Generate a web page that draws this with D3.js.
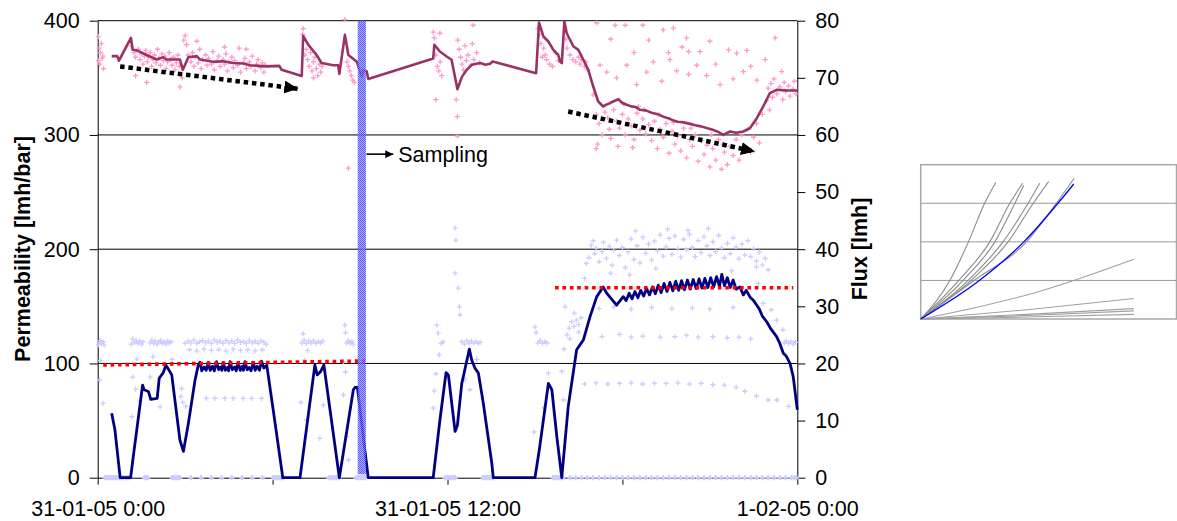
<!DOCTYPE html>
<html>
<head>
<meta charset="utf-8">
<script src="https://cdn.jsdelivr.net/npm/d3@7"></script>
<style>
body{margin:0;background:#fff;}
text{font-family:"Liberation Sans",Arial,sans-serif;}
</style>
</head>
<body>
<div id="chart"></div>
<script>
// hours since 31-01-05 0:00, permeability [lmh/bar]
const permLine = [[0.48,369],[0.67,369],[0.73,365],[1.14,385],[1.20,374.5],[1.34,374],[1.68,370],[2.02,366],[2.25,368],[2.37,366],[2.82,366],[2.92,357],[3.11,368],[3.40,369],[3.51,366],[3.96,364],[4.3,364.5],[4.64,363],[5.0,362.5],[5.22,361],[5.5,360.5],[5.80,360],[6.23,360.5],[6.31,357],[7.00,351.7],[7.05,386.8],[7.22,379],[7.51,370],[7.68,363],[8.08,361],[8.25,361],[8.29,353.5],[8.48,387.6],[8.60,370],[8.89,364],[9.06,351],[9.11,357],[9.23,355.5],[9.28,349],[11.51,367],[11.55,379],[11.74,373],[11.97,368.7],[12.14,365.8],[12.34,340],[12.49,350.6],[12.66,357],[12.83,361.4],[13.12,362.9],[13.3,361.5],[13.46,362.3],[13.55,364.3],[15.04,354],[15.14,398.4],[15.29,386.2],[15.46,381.8],[15.63,374.5],[15.80,370],[15.86,364.3],[15.92,362.9],[16.01,399.3],[16.09,389],[16.32,377.4],[16.49,374.5],[16.66,365.8],[16.83,357],[17.00,342.4],[17.17,329.3],[17.34,324.9],[17.45,326.5],[17.57,327.8],[17.7,329.5],[17.86,331.3],[18.0,328],[18.15,326.4],[18.3,325],[18.45,324.5],[18.60,322],[18.8,321.5],[19.0,319.5],[19.18,318.4],[19.4,316],[19.6,314.5],[19.75,312.6],[19.9,311.5],[20.1,311],[20.32,309.7],[20.5,308.5],[20.7,307.5],[20.89,306],[21.1,304.5],[21.3,302.5],[21.46,300],[21.69,303],[21.9,302],[22.15,303],[22.38,306],[22.61,314.7],[22.83,324.9],[23.06,336.6],[23.29,339.5],[23.6,339],[24.0,338.9]];

// hours, flux [lmh]
const fluxLine = [[0.48,11.3],[0.59,8.4],[0.77,0],[1.13,0],[1.22,3.7],[1.54,16.2],[1.59,15.4],[1.74,15.1],[1.82,13.7],[2.04,13.9],[2.11,17.4],[2.25,18.4],[2.34,19.7],[2.39,19.3],[2.54,18],[2.82,6.6],[2.94,4.6],[3.11,9.5],[3.34,17.1],[3.45,19.7],[3.51,20.2],[3.57,18.7],[3.65,19.4],[3.72,18.8],[3.79,20.2],[3.86,18.8],[3.94,19.5],[4.0,18.7],[4.08,20.3],[4.15,18.9],[4.22,19.4],[4.26,18.8],[4.31,20.2],[4.38,18.8],[4.45,19.3],[4.49,18.7],[4.54,20.3],[4.62,18.9],[4.7,19.4],[4.75,18.7],[4.82,20.2],[4.89,18.8],[4.96,19.5],[5.0,18.8],[5.05,20.3],[5.13,18.9],[5.2,19.3],[5.26,18.7],[5.34,20.2],[5.4,18.8],[5.47,19.5],[5.55,18.8],[5.62,20.4],[5.7,19.2],[5.8,19.7],[6.02,11.9],[6.35,0],[6.94,0],[7.45,19.7],[7.53,18],[7.65,18.6],[7.76,19.7],[7.97,11.9],[8.29,0],[8.77,15.4],[8.83,15.8],[8.91,15.8],[9.11,7.2],[9.28,0],[11.51,0],[11.74,10.1],[11.95,18.4],[12.03,18],[12.26,8.1],[12.34,9.2],[12.49,16.5],[12.75,22.5],[12.83,20.6],[12.94,19.2],[13.06,18.3],[13.23,13],[13.52,2.5],[13.57,0],[15.0,0],[15.15,4.9],[15.46,16.5],[15.58,15.4],[15.75,7.2],[15.92,0],[16.14,12.4],[16.43,22.4],[16.66,24.1],[16.89,28.2],[17.12,31.7],[17.34,33.4],[17.46,32.3],[17.8,30.2],[18.03,31.7],[18.13,31.0],[18.23,32.3],[18.33,31.3],[18.43,32.6],[18.53,31.5],[18.63,32.8],[18.73,31.8],[18.83,33.1],[18.93,32.0],[19.03,33.4],[19.13,32.2],[19.23,33.7],[19.33,32.4],[19.43,34.0],[19.53,32.6],[19.63,34.2],[19.73,32.7],[19.83,34.4],[19.93,32.8],[20.03,34.5],[20.13,32.9],[20.23,34.6],[20.33,33.0],[20.43,34.7],[20.53,33.1],[20.63,34.8],[20.73,33.2],[20.83,34.9],[20.93,33.3],[21.03,35.0],[21.13,33.4],[21.23,35.2],[21.33,33.5],[21.41,35.6],[21.5,33.6],[21.6,35.0],[21.7,33.3],[21.8,34.6],[21.9,33.0],[22.03,33.4],[22.15,32.0],[22.25,32.8],[22.38,31.6],[22.5,31.0],[22.61,30.2],[22.7,29.5],[22.8,28.3],[22.95,27.3],[23.1,26.0],[23.29,24.7],[23.4,23.5],[23.52,21.8],[23.62,21.3],[23.75,20],[23.86,17.7],[24.0,11.9]];

const permPoints = [[0.02,386],[0.05,376],[0.1,372],[0.15,367],[0.07,362],[0.2,358],[0.12,380],[0.18,369],[0.03,365],
[1.15,378],[1.25,372],[1.3,368],[1.4,375],[1.45,366],[1.5,371],[1.55,362],[1.6,369],[1.65,374],[1.7,364],[1.75,368],[1.8,372],[1.85,360],[1.9,366],[1.95,370],[2.0,363],[2.05,375],[2.1,367],[2.15,361],[2.2,371],[2.25,365],[2.3,369],[2.35,358],[2.4,364],[2.45,372],[2.5,366],[2.55,361],[2.6,368],[2.65,357],[2.7,363],[2.75,370],[2.8,360],[1.68,346],[1.3,352],[2.82,342],[2.9,350],[2.95,383],[3.0,387],[3.05,379],
[3.1,370],[3.2,364],[3.25,372],[3.3,360],[3.35,368],[3.45,363],[3.5,375],[3.55,358],[3.6,366],[3.7,370],[3.75,361],[3.8,367],[3.9,362],[3.95,373],[4.0,357],[4.1,365],[4.15,369],[4.2,360],[4.3,366],[4.35,362],[4.4,371],[4.45,356],[4.5,364],[4.6,368],[4.65,359],[4.7,365],[4.8,361],[4.85,376],[4.9,355],[5.0,363],[5.05,367],[5.1,358],[5.2,364],[5.25,360],[5.3,369],[5.4,356],[5.45,362],[5.5,366],[5.6,359],[5.65,363],[5.7,355],[5.75,361],[4.35,377],[3.4,382],[5.1,375],
[7.05,393],[7.03,388],[7.1,370],[7.15,375],[7.2,366],[7.25,360],[7.3,372],[7.35,356],[7.4,364],[7.45,368],[7.5,358],[7.55,352],[7.6,362],[7.65,355],[7.7,360],[7.4,350],
[8.48,401],[8.55,364],[8.6,360],[8.65,356],[8.7,352],[8.75,348],[8.8,346],[8.6,271],
[11.51,390],[11.55,385],[11.6,370],[11.65,360],[11.7,356],[11.75,364],[11.8,352],[11.6,331],[11.74,389],[12.3,331],[12.34,316],[12.34,299],[12.35,383],[12.4,375],[12.45,368],[12.5,362],[12.6,378],[12.65,365],[12.7,370],[12.8,361],[12.9,366],[13.0,372],[13.1,363],[12.55,357],[12.85,380],[12.88,396],
[15.1,393],[15.15,388],[15.2,380],[15.3,376],[15.35,370],[15.4,366],[15.5,362],[15.6,360],[15.7,372],[15.8,365],[16.05,384],[16.1,376],[16.2,370],[16.3,366],[16.4,364],[16.5,368],[16.55,362],[16.6,366],[16.7,360],[16.75,364],[16.8,357],[15.25,368],
[17.12,398],[17.75,396],[18.1,396],[18.7,396],[19.4,392],[19.75,393.5],[20.05,377],[20.27,373],[20.66,373],[21.0,382],[21.64,374.5],[21.92,371.6],[22.27,374],[22.9,366],[23.24,385],[23.46,355.5],[17.23,361],[17.46,355],[17.8,350],[18.15,361],[18.49,344],[18.83,355],[19.06,364],[19.35,347],[19.63,366],[19.86,356],[20.27,353],[20.55,361],[20.89,352],[21.35,344],[21.8,349],[22.15,355.5],[22.61,348],[19.58,372],[18.4,372],[17.6,384],[20.2,385],[21.2,362],[22.4,360],[18.9,383],
[17.0,335],[17.1,318],[17.2,310],[17.3,300],[17.15,292],[17.4,320],[17.5,315],[17.55,305],[17.6,297],[17.1,288],
[17.7,322],[17.8,312],[17.9,306],[18.0,318],[18.1,300],[18.2,314],[18.3,308],[18.4,296],[18.5,319],[18.6,304],[17.85,290],[18.35,289],[18.05,327],[18.55,325],
[18.7,314],[18.8,301],[18.9,309],[19.0,295],[19.1,312],[19.2,288],[19.3,305],[19.4,298],[19.5,310],[19.6,284],[18.75,322],[19.25,318],
[19.7,303],[19.8,292],[19.9,299],[20.0,286],[20.1,306],[20.2,280],[20.3,296],[20.4,290],[20.5,300],[20.6,277],[19.75,311],[20.35,306],
[20.7,295],[20.8,283],[20.9,291],[21.0,272],[21.1,288],[21.2,278],[21.3,296],[21.4,270],[21.5,285],[21.6,274],[21.05,300],[21.45,292],
[21.7,290],[21.8,282],[21.9,296],[22.0,278],[22.1,300],[22.2,288],[22.3,305],[22.4,285],[22.5,298],[22.6,310],[22.7,293],[22.8,318],
[22.95,330],[23.0,341],[23.1,345],[23.15,333],[23.2,349],[23.3,336],[23.4,342],[23.5,331],[23.55,346],[23.6,338],[23.7,343],[23.75,334],[23.85,340],[23.9,347],[23.95,336],[23.05,322]];

const fluxPoints = [[0.03,23.3],[0.08,24],[0.13,23.5],[0.18,23.8],[0.22,23.2],[0.06,17.1],[0.18,13],[0.1,20.5],
[1.15,23.4],[1.2,24.3],[1.26,23.7],[1.32,24],[1.38,23.5],[1.44,23.9],[1.5,23.4],[1.55,23.8],[1.2,17.6],[1.17,10.7],[1.3,15.5],[1.45,13.4],[1.35,20.8],
[1.8,23.6],[1.86,24.1],[1.92,23.5],[1.98,23.9],[2.04,23.4],[2.1,23.8],[2.16,24],[2.22,23.5],[2.28,23.8],[2.34,23.4],[2.4,23.9],[2.46,23.6],[2.52,23.8],[1.8,17.6],[2.14,12.4],[2.55,20.7],[1.9,21.2],
[2.85,14.2],[2.92,13.2],[3.02,12.5],[2.88,15.6],
[3.0,23.5],[3.1,23.9],[3.2,23.6],[3.3,24.1],[3.4,23.5],[3.5,23.8],[3.6,24],[3.7,23.6],[3.8,23.9],[3.9,23.5],[4.0,24.1],[4.1,23.7],[4.2,23.9],[4.3,23.5],[4.4,24],[4.5,23.6],[4.6,23.9],[4.7,23.5],[4.8,24.1],[4.9,23.7],[5.0,23.8],[5.1,23.5],[5.2,24],[5.3,23.6],[5.4,23.9],[5.5,23.5],[5.6,24],[5.7,23.7],[5.78,23.4],
[3.15,22.4],[3.4,22.2],[3.65,22.5],[3.9,22.3],[4.15,22.4],[4.4,22.2],[4.65,22.5],[4.9,22.3],[5.15,22.4],[5.4,22.2],[5.65,22.4],
[3.73,13.9],[4.02,13.9],[4.36,13.9],[4.65,13.9],[4.99,13.9],[5.28,13.9],[5.62,13.9],
[7.0,23.6],[7.08,24.1],[7.16,23.5],[7.24,23.9],[7.32,23.6],[7.4,24],[7.48,23.5],[7.56,23.8],[7.64,23.6],[7.72,23.9],[7.05,25.2],[7.1,20.6],[6.97,13.2],[7.17,10.1],[7.62,6.9],[7.74,12.7],[7.2,22.3],
[8.48,26.7],[8.5,25.4],[8.54,23.6],[8.6,24],[8.66,23.5],[8.72,23.8],[8.76,23.4],[8.43,20.3],[8.43,14.5],[8.54,7.2],[8.6,3.1],[8.5,18.5],
[11.51,12.2],[11.63,26.7],[11.68,25.3],[11.78,23.5],[11.85,23.8],[11.72,21.5],[11.6,18.2],[11.55,15.2],
[12.26,43.7],[12.29,41.6],[12.26,35.8],[12.37,33.2],[12.41,29.9],[12.43,28.5],
[12.5,23.8],[12.58,23.4],[12.66,24],[12.74,23.6],[12.82,23.9],[12.9,23.5],[12.98,23.8],[13.06,23.5],[13.12,23.7],[12.77,15.4],[12.6,17.2],[13.0,20.7],
[15.0,26.4],[15.04,25.4],[15.1,23.6],[15.18,24],[15.26,23.5],[15.34,23.8],[15.42,23.6],[14.97,8],[15.46,18.3],[15.3,12.2],
[15.92,18.6],[16.03,29.9],[15.98,13.6],[16.0,22.5],
[16.1,25],[16.18,26.2],[16.26,27.3],[16.34,26.5],[16.42,27.6],[16.5,26.8],[16.58,28],[16.2,24.3],[16.35,28.8],[16.5,25.5],
[16.7,34.9],[16.76,37.5],[16.93,40.7],
[16.85,38.5],[17.0,41.5],[17.05,39.2],[17.1,40.2],[17.2,37.8],[17.3,39.6],[17.35,41.2],[17.45,38.4],[17.55,40.5],[17.65,37.2],[17.7,39.8],[17.8,41.6],[17.9,38.9],[18.0,40.3],[18.1,36.8],[18.2,39.5],[18.3,41.8],[18.4,38.2],[18.5,40.6],[18.6,37.6],[18.7,42.1],[18.8,39.3],[18.9,40.9],[19.0,38.1],[19.1,41.4],[19.2,39.7],[19.3,42.5],[19.4,38.8],[19.5,40.4],[19.6,41.9],[19.7,39.1],[19.8,42.3],[19.9,40.1],[20.0,38.6],[20.1,41.7],[20.2,39.9],[20.3,42.6],[20.4,40.3],[20.5,38.7],[20.6,41.5],[20.7,39.4],[20.8,42.2],[20.9,40.6],[21.0,38.9],[21.1,41.3],[21.2,39.6],[21.3,42.4],[21.4,40.2],[21.5,38.5],[21.6,41.0],[21.7,39.2],[21.8,42.0],[21.9,40.4],[22.0,38.3],[22.1,40.9],[22.2,39.0],[22.3,41.5],[22.4,38.7],[22.5,40.1],[22.6,37.9],[22.7,39.5],[22.8,37.2],[22.9,38.4],[23.0,36.4],[18.45,43.2],[19.55,43.5],[20.25,43.3],[20.95,43.6],[17.6,35.8],[18.25,35.5],[21.75,36.2],[19.15,36.6],
[22.6,36.9],[22.66,34],[22.83,30.5],[23.11,29.4],[23.29,27.6],[23.5,25.9],[23.55,23.6],[23.62,23.9],[23.7,23.5],[23.78,23.8],[23.86,23.4],[23.94,23.7],
[17.3,24.7],[17.9,25.1],[18.3,24.6],[18.7,24.8],[19.3,24.6],[19.8,24.7],[20.2,24.9],[20.6,24.6],[21.1,24.7],[21.6,24.5],[22.0,24.6],[22.4,24.3],
[17.2,29.6],[17.7,29.9],[18.3,29.5],[19.0,29.8],[19.7,29.6],[20.4,29.7],[21.0,29.5],[21.8,29.8],
[16.7,16.4],[17.1,16.6],[17.5,16.4],[17.9,16.5],[18.3,16.6],[18.7,16.4],[19.1,16.5],[19.5,16.5],[19.9,16.6],[20.3,16.4],[20.7,16.5],[21.1,16.3],[21.5,16.2],[21.9,15.8],[22.2,15.1],[22.6,14.3],[23.0,13.6],[23.3,13.6],[23.7,12.5]];

// flux samples sitting at zero
const fluxZeroTimes = [0.25,0.32,0.39,0.46,0.53,0.6,0.67,0.74,0.81,0.88,0.95,1.02,1.09,1.6,1.66,1.72,2.55,2.62,2.69,2.76,2.82,3.2,3.55,3.9,4.25,4.6,4.95,5.3,5.65,6.02,6.09,6.16,6.23,6.3,6.37,7.92,7.99,8.06,8.13,8.2,8.27,8.86,8.93,9.0,9.07,9.14,9.2,11.92,11.99,12.06,12.13,12.2,12.27,13.22,13.29,13.36,13.43,13.5,13.57,15.62,15.69,15.76,15.83,15.9,15.97,16.2,16.4,16.6,16.8,17.0,17.2,17.4,17.6,17.8,18.0,18.2,18.4,18.6,18.8,19.0,19.2,19.4,19.6,19.8,20.0,20.2,20.4,20.6,20.8,21.0,21.2,21.4,21.6,21.8,22.0,22.2,22.4,22.6,22.8,23.0,23.2,23.4,23.6,23.8,23.9,23.97];

// reference flux levels [start, end, flux at start, flux at end]
const fluxLevels = [[0.19,9.17,19.73,20.43],[15.69,23.86,33.26,33.26]];
// permeability trend arrows [t0, p0, t1, p1]
const trendArrows = [[0.77,359.9,6.88,340.4],[16.14,320.5,22.55,285.5]];
const samplingWindow = [8.92, 9.2];
const samplingNote = {t0: 9.22, t1: 10.14, p: 283.2, label: "Sampling"};

const xTicks = [0, 6, 12, 18, 24];
const xTickLabels = ["31-01-05 0:00", "", "31-01-05 12:00", "", "1-02-05 0:00"];
const permTicks = [0, 100, 200, 300, 400];
const fluxTicks = [0, 10, 20, 30, 40, 50, 60, 70, 80];

// small inset: curves [x, y] in inset units
const insetGridY = [1, 2, 3];
const insetCurvesGray = [
  [[0,0],[0.69,1.01],[1.12,2.0],[1.5,3.0],[1.76,3.54]],
  [[0,0],[0.90,1.01],[1.62,2.0],[2.09,3.0],[2.39,3.52]],
  [[0,0],[1.0,1.01],[1.74,2.0],[2.21,3.0],[2.42,3.47]],
  [[0,0],[1.12,1.01],[1.93,2.0],[2.52,3.0],[2.79,3.52]],
  [[0,0],[1.19,1.01],[2.05,2.0],[2.64,3.0],[3.0,3.56]],
  [[0,0],[1.27,1.01],[2.48,2.0],[3.18,3.0],[3.6,3.65]],
  [[0,0],[1.3,0.3],[2.64,0.67],[5.0,1.55]],
  [[0,0],[2.5,0.24],[5.0,0.53]],
  [[0,0],[2.5,0.12],[5.0,0.27]],
  [[0,0],[2.5,0.09],[5.0,0.21]],
  [[0,0],[2.5,0.05],[5.0,0.12]]
];
const insetCurveBlue = [[0,0],[1.39,1.01],[2.42,2.0],[3.22,3.0],[3.59,3.5]];

const W = 1177, H = 521;
const svg = d3.select("#chart").append("svg")
  .attr("width", W).attr("height", H);

const x = d3.scaleLinear().domain([0, 24]).range([97.7, 797.3]);
const yP = d3.scaleLinear().domain([0, 400]).range([477.7, 20.7]);
const yF = d3.scaleLinear().domain([0, 80]).range([477.7, 20.7]);

const defs = svg.append("defs");
defs.append("marker").attr("id", "bigHead")
  .attr("markerUnits", "userSpaceOnUse")
  .attr("markerWidth", 15).attr("markerHeight", 13)
  .attr("refX", 14).attr("refY", 6.5).attr("orient", "auto")
  .append("path").attr("d", "M0,0L14,6.5L0,13Z").attr("fill", "#000");
defs.append("marker").attr("id", "smallHead")
  .attr("markerUnits", "userSpaceOnUse")
  .attr("markerWidth", 9).attr("markerHeight", 8)
  .attr("refX", 8).attr("refY", 4).attr("orient", "auto")
  .append("path").attr("d", "M0,0L8,4L0,8Z").attr("fill", "#000");
// checkered blue fill for the sampling window
const pat = defs.append("pattern").attr("id", "sampleFill")
  .attr("patternUnits", "userSpaceOnUse").attr("width", 2).attr("height", 2);
pat.append("rect").attr("width", 2).attr("height", 2).attr("fill", "#9a9aff");
pat.append("rect").attr("width", 1).attr("height", 1).attr("fill", "#3535ff");
pat.append("rect").attr("x", 1).attr("y", 1).attr("width", 1).attr("height", 1).attr("fill", "#3535ff");

// gridlines
svg.append("g").selectAll("line").data(permTicks.filter(d => d > 0)).enter().append("line")
  .attr("x1", x(0)).attr("x2", x(24))
  .attr("y1", d => yP(d)).attr("y2", d => yP(d))
  .attr("stroke", "#000").attr("stroke-width", 1);

// axes
const axL = svg.append("g").attr("transform", "translate(" + x(0) + ",0)")
  .call(d3.axisLeft(yP).tickValues(permTicks).tickSize(8).tickSizeOuter(0).tickPadding(10));
const axR = svg.append("g").attr("transform", "translate(" + x(24) + ",0)")
  .call(d3.axisRight(yF).tickValues(fluxTicks).tickSize(8).tickSizeOuter(0).tickPadding(10));
const axB = svg.append("g").attr("transform", "translate(0," + yP(0) + ")")
  .call(d3.axisBottom(x).tickValues(xTicks).tickSize(7).tickSizeOuter(0)
    .tickFormat((d, i) => xTickLabels[i]));
axB.selectAll("text").attr("y", 38).attr("dy", 0);
[axL, axR, axB].forEach(a => {
  a.selectAll("text").style("font-size", "21.5px").attr("fill", "#000")
    .style("font-family", "'Liberation Sans', Arial, sans-serif");
  a.selectAll("line").attr("stroke", "#000");
  a.select(".domain").attr("stroke", "#000");
});

const plus = "M-2.6,0H2.6M0,-2.6V2.6";

// scatter: permeability
svg.append("g").selectAll("path").data(permPoints).enter().append("path")
  .attr("d", plus)
  .attr("transform", d => "translate(" + x(d[0]) + "," + yP(d[1]) + ")")
  .attr("stroke", "#ff99cc").attr("stroke-width", 1.3);

// scatter: flux
svg.append("g").selectAll("path").data(fluxPoints).enter().append("path")
  .attr("d", plus)
  .attr("transform", d => "translate(" + x(d[0]) + "," + yF(d[1]) + ")")
  .attr("stroke", "#ccccff").attr("stroke-width", 1.3);
svg.append("g").selectAll("path").data(fluxZeroTimes).enter().append("path")
  .attr("d", plus)
  .attr("transform", d => "translate(" + x(d) + "," + yF(0) + ")")
  .attr("stroke", "#ccccff").attr("stroke-width", 2);

// lines
svg.append("path").datum(permLine)
  .attr("d", d3.line().x(d => x(d[0])).y(d => yP(d[1])))
  .attr("fill", "none").attr("stroke", "#993366").attr("stroke-width", 2.6)
  .attr("stroke-linejoin", "round");
svg.append("path").datum(fluxLine)
  .attr("d", d3.line().x(d => x(d[0])).y(d => yF(d[1])))
  .attr("fill", "none").attr("stroke", "#000080").attr("stroke-width", 2.8)
  .attr("stroke-linejoin", "round");

// reference levels
svg.append("g").selectAll("line").data(fluxLevels).enter().append("line")
  .attr("x1", d => x(d[0])).attr("x2", d => x(d[1]))
  .attr("y1", d => yF(d[2])).attr("y2", d => yF(d[3]))
  .attr("stroke", "#ff0000").attr("stroke-width", 3.6)
  .attr("stroke-dasharray", "3.6,3.8");

// trend arrows
svg.append("g").selectAll("line").data(trendArrows).enter().append("line")
  .attr("x1", d => x(d[0])).attr("y1", d => yP(d[1]))
  .attr("x2", d => x(d[2])).attr("y2", d => yP(d[3]))
  .attr("stroke", "#000").attr("stroke-width", 4.5)
  .attr("stroke-dasharray", "4.5,3.8")
  .attr("marker-end", "url(#bigHead)");

// sampling window
svg.append("rect")
  .attr("x", x(samplingWindow[0])).attr("width", x(samplingWindow[1]) - x(samplingWindow[0]))
  .attr("y", yP(400)).attr("height", yP(3) - yP(400))
  .attr("fill", "url(#sampleFill)").attr("opacity", 0.8);

svg.append("line")
  .attr("x1", x(samplingNote.t0)).attr("x2", x(samplingNote.t1))
  .attr("y1", yP(samplingNote.p)).attr("y2", yP(samplingNote.p))
  .attr("stroke", "#000").attr("stroke-width", 1.6)
  .attr("marker-end", "url(#smallHead)");
svg.append("text")
  .attr("x", x(samplingNote.t1) + 5).attr("y", yP(samplingNote.p) + 7.5)
  .style("font-size", "21.5px")
  .text(samplingNote.label);

// axis titles
svg.append("text")
  .attr("transform", "translate(30,249) rotate(-90)")
  .attr("text-anchor", "middle")
  .style("font-size", "21.5px").style("font-weight", "bold")
  .text("Permeability [lmh/bar]");
svg.append("text")
  .attr("transform", "translate(867,249) rotate(-90)")
  .attr("text-anchor", "middle")
  .style("font-size", "21.5px").style("font-weight", "bold")
  .text("Flux [lmh]");

// inset
const ix = d3.scaleLinear().domain([0, 6]).range([920.7, 1176.5]);
const iy = d3.scaleLinear().domain([0, 4]).range([319, 164.7]);
const inset = svg.append("g");
inset.append("rect")
  .attr("x", ix(0)).attr("y", iy(4))
  .attr("width", ix(6) - ix(0)).attr("height", iy(0) - iy(4))
  .attr("fill", "#fff").attr("stroke", "#a8a8a8").attr("stroke-width", 1.5);
inset.selectAll("line.g").data(insetGridY).enter().append("line")
  .attr("x1", ix(0)).attr("x2", ix(6))
  .attr("y1", d => iy(d)).attr("y2", d => iy(d))
  .attr("stroke", "#999").attr("stroke-width", 1);
const iline = d3.line().x(d => ix(d[0])).y(d => iy(d[1])).curve(d3.curveMonotoneX);
inset.selectAll("path.c").data(insetCurvesGray).enter().append("path")
  .attr("d", iline)
  .attr("fill", "none").attr("stroke", (d, i) => i < 6 ? "#8c8c8c" : "#a0a0a0")
  .attr("stroke-width", 1.1);
inset.append("path").datum(insetCurveBlue)
  .attr("d", iline)
  .attr("fill", "none").attr("stroke", "#0000ff").attr("stroke-width", 1.3);
</script>
</body>
</html>
